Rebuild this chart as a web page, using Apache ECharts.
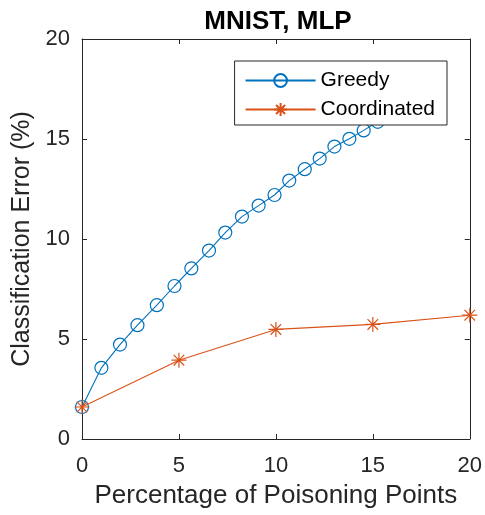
<!DOCTYPE html>
<html>
<head>
<meta charset="utf-8">
<script src="https://cdn.jsdelivr.net/npm/echarts@6/dist/echarts.min.js"></script>
<style>
  html, body { margin: 0; padding: 0; background: #fff; }
  #chart { width: 485px; height: 515px; }
</style>
</head>
<body>
<div id="chart"></div>
<script>
// Percentage of poisoning points (x) and classification error in % (y)
const greedyX = [0, 1.0, 1.96, 2.86, 3.86, 4.77, 5.64, 6.55, 7.39, 8.25, 9.11, 9.93, 10.69, 11.49, 12.26, 13.02, 13.79, 14.53, 15.25, 16.0];
const greedyY = [1.6, 3.56, 4.72, 5.69, 6.69, 7.65, 8.53, 9.42, 10.32, 11.12, 11.67, 12.2, 12.92, 13.49, 14.02, 14.62, 15.01, 15.43, 15.86, 16.3];
const coordX = [0, 5, 10, 15, 20];
const coordY = [1.6, 3.94, 5.48, 5.73, 6.19];
const xTicks = [0, 5, 10, 15, 20];
const yTicks = [0, 5, 10, 15, 20];

const axisColor = '#262626';
const font = 'Liberation Sans, Arial, Helvetica, sans-serif';
const blue = '#0072BD';
const orange = '#D95319';
const asterisk = 'path://M0,-10 L0,10 M-10,0 L10,0 M-7.07,-7.07 L7.07,7.07 M-7.07,7.07 L7.07,-7.07';

const pairs = (xs, ys) => xs.map((x, i) => [x, ys[i]]);

const frameAxis = (extra) => Object.assign({
  type: 'value', min: 0, max: 20, interval: 5,
  axisLine: { show: true, onZero: false, lineStyle: { color: axisColor, width: 1 } },
  axisTick: { show: true, inside: true, length: 5, lineStyle: { color: axisColor } },
  splitLine: { show: false }
}, extra);

const chart = echarts.init(document.getElementById('chart'), null, { renderer: 'canvas' });
chart.setOption({
  backgroundColor: '#fff',
  animation: false,
  title: {
    text: 'MNIST, MLP',
    left: 273, top: 4, textAlign: 'center',
    textStyle: { fontFamily: font, fontWeight: 'bold', fontSize: 26, color: '#000' }
  },
  grid: { left: 82, right: 14, top: 39, bottom: 76, containLabel: false },
  legend: {
    right: 38, top: 61, orient: 'vertical',
    backgroundColor: '#fff', borderColor: axisColor, borderWidth: 1,
    padding: [9, 12, 5, 10], itemGap: 8, itemWidth: 70, itemHeight: 16,
    textStyle: { fontFamily: font, fontSize: 21, color: '#000', padding: [0, 0, 0, 0] },
    data: ['Greedy', 'Coordinated']
  },
  xAxis: [
    frameAxis({
      position: 'bottom',
      name: 'Percentage of Poisoning Points', nameLocation: 'middle', nameGap: 44,
      nameTextStyle: { fontFamily: font, fontSize: 26, color: axisColor },
      axisLabel: { fontFamily: font, fontSize: 22, color: axisColor, margin: 16,
        formatter: v => xTicks.includes(v) ? String(v) : '' }
    }),
    frameAxis({ position: 'top', axisLabel: { show: false } })
  ],
  yAxis: [
    frameAxis({
      position: 'left',
      name: 'Classification Error (%)', nameLocation: 'middle', nameGap: 46,
      nameTextStyle: { fontFamily: font, fontSize: 25, color: axisColor },
      axisLabel: { fontFamily: font, fontSize: 22, color: axisColor, margin: 12,
        formatter: v => yTicks.includes(v) ? String(v) : '' }
    }),
    frameAxis({ position: 'right', axisLabel: { show: false } })
  ],
  series: [
    {
      name: 'Greedy', type: 'line', xAxisIndex: 0, yAxisIndex: 0,
      data: pairs(greedyX, greedyY),
      symbol: 'circle', symbolSize: 13, showAllSymbol: true,
      lineStyle: { color: blue, width: 1.1 },
      itemStyle: { color: 'none', borderColor: blue, borderWidth: 1.2, opacity: 1 },
      emphasis: { disabled: true }, z: 2
    },
    {
      name: 'Coordinated', type: 'line', xAxisIndex: 0, yAxisIndex: 0,
      data: pairs(coordX, coordY),
      symbol: asterisk, symbolSize: 15, showAllSymbol: true,
      lineStyle: { color: orange, width: 1.1 },
      itemStyle: { color: 'none', borderColor: orange, borderWidth: 1.2 },
      emphasis: { disabled: true }, z: 3
    }
  ]
});
</script>
</body>
</html>
